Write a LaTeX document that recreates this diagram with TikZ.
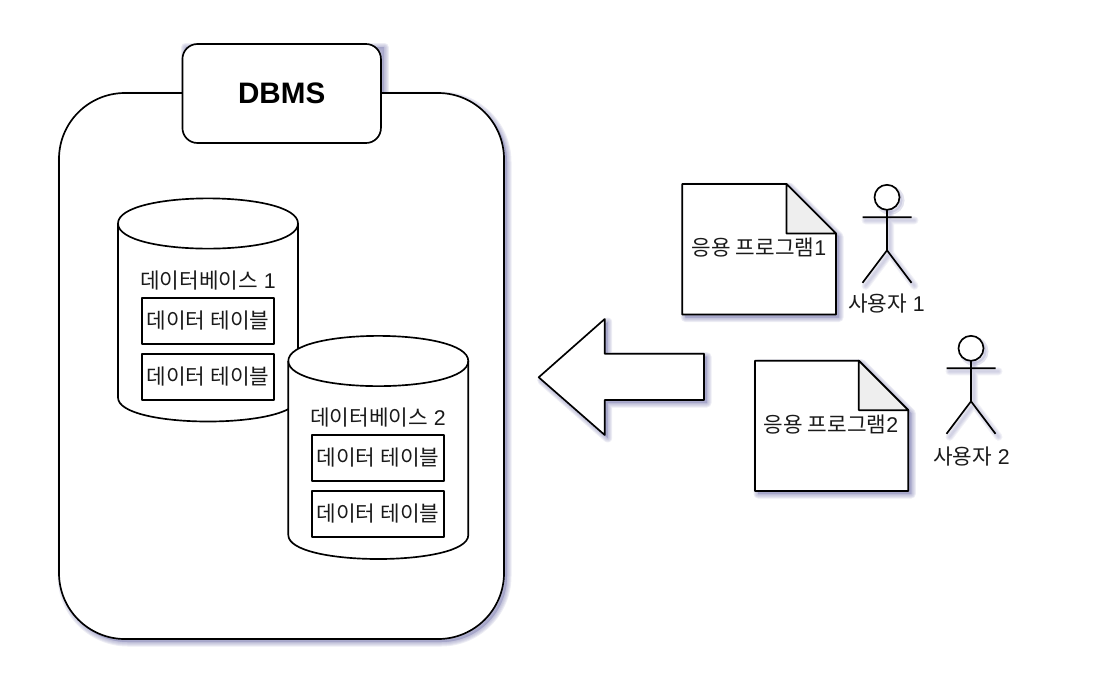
\documentclass[tikz,border=0pt]{standalone}
\usepackage{fontspec}
\setmainfont{Liberation Sans}
\newfontfamily\kr{Noto Sans CJK KR}
\definecolor{shadowc}{HTML}{9090BC}
\definecolor{foldc}{HTML}{EEEEEE}
\definecolor{txtc}{HTML}{1A1A1A}
\newcommand{\softshadow}[2][shadowc]{%
  \foreach \wd in {9,7,5,3,1}{%
    \path[draw=#1,fill=#1,draw opacity=.16,fill opacity=.16,line width=\wd*.75pt,line join=round,shift={(3,3)}] #2;}}
\newcommand{\softline}[1]{%
  \foreach \wd in {8,6,4,2}{%
    \path[draw=shadowc,draw opacity=.12,line width=\wd*.75pt,line cap=round,line join=round,shift={(3,3)}] #1;}}
\tikzset{
  x=.75pt,y=-.75pt,
  ink/.style={draw=black,line width=1.25pt,line join=round},
  lbl/.style={inner sep=0pt,text=txtc,font=\fontsize{16}{19}\selectfont},
  tablebox/.style={ink,fill=white,text=txtc,minimum width=132.5*.75pt,minimum height=46.3*.75pt,inner sep=0pt,font=\fontsize{16}{19}\selectfont\kr},
  tag/.style={ink,fill=white,rounded corners=15*.75pt,minimum width=198.5*.75pt,minimum height=99*.75pt,inner sep=0pt,font=\bfseries\fontsize{22.2}{26}\selectfont},
}
\newcommand{\cyl}[2]{% #1 left x, #2 top y
  \path[ink,fill=white] (#1,#2+25) .. controls (#1,#2-8.5) and (#1+180,#2-8.5) .. (#1+180,#2+25)
     -- (#1+180,#2+199) .. controls (#1+180,#2+231) and (#1,#2+231) .. (#1,#2+199) -- cycle;
  \path[ink] (#1,#2+25) .. controls (#1,#2+58.5) and (#1+180,#2+58.5) .. (#1+180,#2+25);}
\newcommand{\stick}[2]{% #1 cx, #2 head cy
  \softline{(#1,#2+12.5) -- (#1,#2+53) (#1-24.5,#2+20) -- (#1+24.5,#2+20) (#1-24.5,#2+85.5) -- (#1,#2+53) -- (#1+24.5,#2+85.5)}
  \path[draw=shadowc,fill=shadowc,draw opacity=.25,fill opacity=.25,line width=3pt] (#1+3,#2+3) circle[radius=12.5];
  \path[ink,fill=white] (#1,#2) circle[radius=12.5];
  \path[ink] (#1,#2+12.5) -- (#1,#2+53) (#1-24.5,#2+20) -- (#1+24.5,#2+20) (#1-24.5,#2+85.5) -- (#1,#2+53) -- (#1+24.5,#2+85.5);}
\newcommand{\docshape}[4]{% left top right bottom
  \softshadow{(#1,#2) -- (#3-49.5,#2) -- (#3,#2+49.5) -- (#3,#4) -- (#1,#4) -- cycle}
  \path[ink,fill=white] (#1,#2) -- (#3-49.5,#2) -- (#3,#2+49.5) -- (#3,#4) -- (#1,#4) -- cycle;
  \path[ink,fill=foldc] (#3-49.5,#2) -- (#3,#2+49.5) -- (#3-49.5,#2+49.5) -- cycle;}
\begin{document}
\begin{tikzpicture}
\useasboundingbox (0,0) rectangle (1098,697);
% DBMS container
\softshadow{(182.5,44) rectangle (381,143)}
\softshadow{[rounded corners=66*.75pt] (59,93) rectangle (504,639)}
\path[ink,fill=white,rounded corners=66*.75pt] (59,93) rectangle (504,639);
\node[tag] (dbms) at (281.7,93.5) {DBMS};
% database 1
\cyl{118}{198.5}
\node[lbl] (db1) at (208,281) {{\kr 데이터베이스} 1};
\node[tablebox] (t11) at (208,321) {데이터 테이블};
\node[tablebox] (t12) at (208,377) {데이터 테이블};
% database 2
\cyl{288.3}{336}
\node[lbl] (db2) at (378,418) {{\kr 데이터베이스} 2};
\node[tablebox] (t21) at (378,458) {데이터 테이블};
\node[tablebox] (t22) at (378,514) {데이터 테이블};
% arrow
\softshadow{(538.7,377.3) -- (604.7,319) -- (604.7,353.7) -- (704,353.7) -- (704,400) -- (604.7,400) -- (604.7,435) -- cycle}
\path[ink,fill=white] (538.7,377.3) -- (604.7,319) -- (604.7,353.7) -- (704,353.7) -- (704,400) -- (604.7,400) -- (604.7,435) -- cycle;
% application 1
\docshape{682.3}{184}{836}{314.5}
\node[lbl] (app1) at (759,248) {{\kr 응용 프로그램}1};
\stick{887}{197.3}
\node[lbl] (u1) at (886.5,304) {{\kr 사용자} 1};
% application 2
\docshape{755}{360.7}{908.3}{491}
\node[lbl] (app2) at (831,425) {{\kr 응용 프로그램}2};
\stick{971}{348.3}
\node[lbl] (u2) at (971.5,456.5) {{\kr 사용자} 2};
\end{tikzpicture}
\end{document}
